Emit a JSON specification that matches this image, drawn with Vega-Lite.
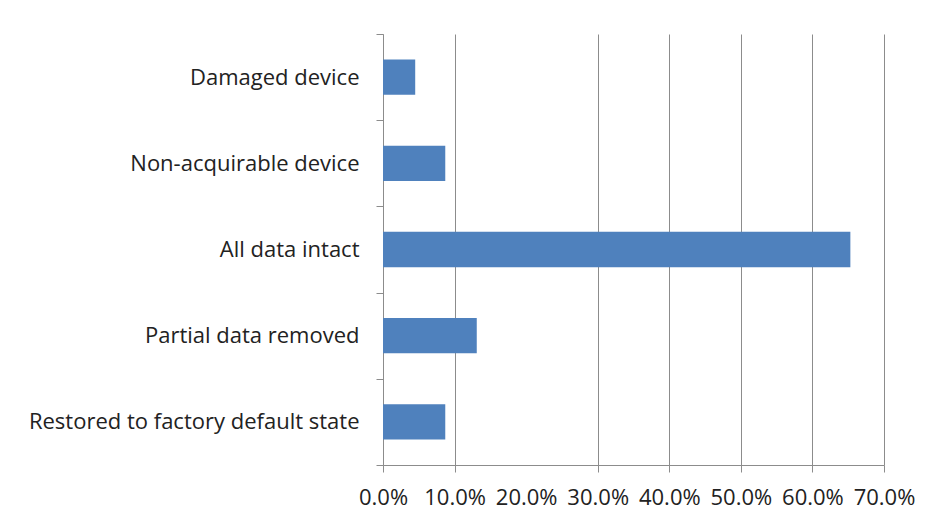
{
  "$schema": "https://vega.github.io/schema/vega-lite/v6.json",
  "width": 501,
  "height": 431,
  "autosize": {"type": "none"},
  "padding": {"left": 383, "top": 34, "right": 48, "bottom": 60},
  "background": "white",
  "data": {
    "values": [
      {"category": "Damaged device", "pct": 4.5},
      {"category": "Non-acquirable device", "pct": 8.7},
      {"category": "All data intact", "pct": 65.3},
      {"category": "Partial data removed", "pct": 13.1},
      {"category": "Restored to factory default state", "pct": 8.7}
    ]
  },
  "mark": {"type": "bar", "color": "#4f81bd", "height": {"band": 0.41}},
  "encoding": {
    "y": {
      "field": "category",
      "type": "nominal",
      "sort": null,
      "title": null,
      "scale": {"paddingInner": 0, "paddingOuter": 0},
      "axis": {
        "tickBand": "extent",
        "labelFont": "Open Sans",
        "labelFontSize": 22,
        "labelColor": "#222222",
        "labelPadding": 17,
        "tickSize": 7,
        "domainColor": "#8c8c8c",
        "tickColor": "#8c8c8c",
        "labelLimit": 400,
        "grid": false
      }
    },
    "x": {
      "field": "pct",
      "type": "quantitative",
      "title": null,
      "scale": {"domain": [0, 70], "nice": false},
      "axis": {
        "values": [0, 10, 20, 30, 40, 50, 60, 70],
        "labelExpr": "format(datum.value, '.1f') + '%'",
        "grid": true,
        "gridColor": {"condition": {"test": "datum.value == 20", "value": "transparent"}, "value": "#8c8c8c"},
        "tickColor": {"condition": {"test": "datum.value == 20", "value": "transparent"}, "value": "#8c8c8c"},
        "domainColor": "#8c8c8c",
        "tickSize": 7,
        "labelFont": "Open Sans",
        "labelFontSize": 22,
        "labelColor": "#222222",
        "labelPadding": 15,
        "labelFlush": false
      }
    }
  },
  "config": {"view": {"stroke": null}}
}
